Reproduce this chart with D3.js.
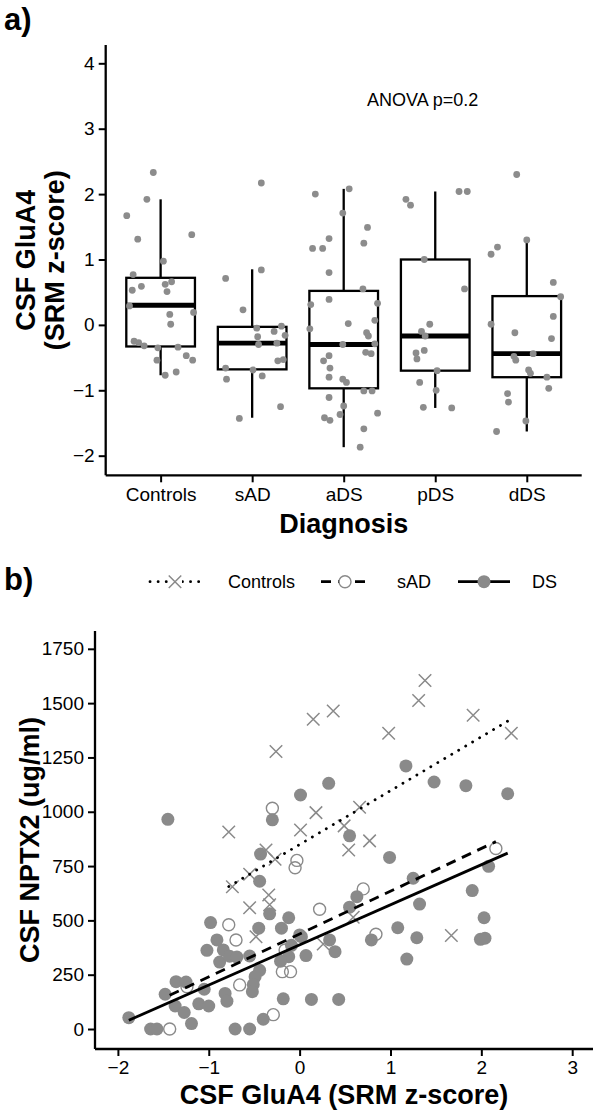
<!DOCTYPE html>
<html><head><meta charset="utf-8">
<script src="https://cdnjs.cloudflare.com/ajax/libs/d3/7.8.5/d3.min.js"></script>
<style>body{margin:0;background:#fff}svg{display:block}text{font-family:"Liberation Sans",Arial,sans-serif;fill:#000}</style>
</head><body><svg id="c" width="596" height="1113"></svg>
<script>
// ---------- Panel a data ----------
const diagnoses = ["Controls","sAD","aDS","pDS","dDS"];
const boxLow  = [-0.77,-1.42,-1.87,-1.27,-1.63];
const boxQ1   = [-0.33,-0.68,-0.97,-0.70,-0.80];
const boxMed  = [0.30,-0.28,-0.30,-0.17,-0.44];
const boxQ3   = [0.72,-0.03,0.52,1.00,0.44];
const boxHigh = [1.92,0.85,2.08,2.04,1.30];
const aYTicks = [-2,-1,0,1,2,3,4];
// jittered points: [jitter (category units), GluA4 z-score]
const ptsControls = [[-0.08,2.33],[-0.15,1.92],[-0.37,1.67],[-0.25,1.31],[0.34,1.38],[0.03,0.975],[-0.30,0.77],[-0.31,0.53],[-0.21,0.59],[0.05,0.62],[0.12,0.66],[0.07,0.51],[-0.34,0.29],[0.36,0.19],[0.10,0.16],[0.11,0.01],[-0.29,-0.25],[-0.24,-0.27],[-0.18,-0.32],[-0.03,-0.35],[0.19,-0.34],[0.28,-0.47],[0.35,-0.54],[-0.04,-0.54],[0.05,-0.77],[0.17,-0.72]];
const ptsSAD = [[0.10,2.17],[-0.29,0.71],[0.10,0.84],[-0.10,0.23],[0.05,-0.05],[0.06,-0.18],[0.24,-0.10],[0.32,-0.02],[0.36,-0.16],[0.07,-0.30],[0.27,-0.28],[0.34,-0.53],[0.28,-0.55],[-0.29,-0.66],[0.01,-0.69],[-0.28,-0.83],[0.11,-0.78],[-0.14,-1.43],[0.31,-1.25]];
const ptsADS = [[-0.31,2.0],[0.06,2.08],[-0.01,1.71],[0.26,1.49],[-0.34,1.17],[-0.23,1.17],[-0.16,1.32],[0.22,1.25],[-0.16,0.80],[0.21,0.55],[-0.16,0.39],[-0.36,0.31],[0.37,0.33],[0.34,0.07],[0.05,0.02],[-0.37,-0.06],[0.25,-0.12],[0.27,-0.17],[-0.01,-0.30],[0.34,-0.29],[0.24,-0.42],[0.30,-0.44],[-0.16,-0.47],[-0.22,-0.55],[-0.15,-0.66],[-0.16,-0.80],[-0.01,-0.83],[0.03,-0.88],[0.22,-1.01],[0.31,-1.01],[-0.16,-1.11],[0.00,-1.24],[-0.21,-1.42],[-0.15,-1.46],[-0.04,-1.37],[0.37,-1.35],[0.22,-1.59],[0.18,-1.87]];
const ptsPDS = [[-0.32,1.92],[-0.27,1.83],[0.26,2.04],[0.35,2.04],[-0.12,1.0],[0.32,0.55],[-0.06,0.01],[-0.15,-0.10],[-0.11,-0.17],[-0.12,-0.39],[-0.21,-0.43],[-0.20,-0.52],[0.02,-0.70],[-0.17,-0.88],[0.01,-1.0],[-0.13,-1.26],[0.18,-1.27]];
const ptsDDS = [[-0.11,2.3],[-0.39,1.08],[-0.32,1.19],[0.00,1.30],[0.29,0.65],[0.37,0.43],[0.29,0.13],[-0.39,0.01],[-0.13,-0.12],[0.27,-0.21],[0.07,-0.44],[-0.14,-0.48],[-0.12,-0.54],[0.02,-0.69],[0.04,-0.74],[0.22,-0.80],[0.24,-0.97],[-0.21,-1.05],[-0.20,-1.18],[-0.01,-1.47],[-0.33,-1.63]];
const ptsByDiagnosis = [ptsControls, ptsSAD, ptsADS, ptsPDS, ptsDDS];

// ---------- Panel b data ----------
const groups = ["Controls","sAD","DS"];
const controlsGluA4 = [-0.26,0.15,0.37,1.38,1.31,1.91,2.33,0.98,-0.78,0.18,0.01,0.66,0.49,0.77,0.54,-0.37,-0.27,-0.74,-0.55,-0.34,-0.33,-0.55,-0.48,0.59,1.67,0.26];
const controlsNPTX2 = [1277,1426,1464,1604,1512,1444,1361,1361,907,996,916,1021,935,866,824,824,781,655,712,617,572,558,425,514,430,391];
const sadGluA4 = [-0.30,-0.03,-0.05,2.16,0.22,-0.78,-0.70,-0.19,-0.10,-0.66,-1.24,-0.29,-1.43,-0.16,0.70,0.84];
const sadNPTX2 = [1016,776,742,831,551,480,410,264,264,203,195,66,0,364,645,436];
const dsGluA4 = [-1.45,0.01,0.32,-0.30,-0.43,1.17,1.48,1.83,2.29,0.55,0.99,2.08,-0.44,-0.33,-0.12,-0.98,-0.45,-0.20,-0.91,-0.84,-1.02,0.00,-0.09,-0.12,0.07,-0.88,-0.77,-0.69,-0.55,-0.21,-0.44,-0.49,-0.51,-0.52,-1.05,-1.36,-1.25,-1.48,-1.37,-1.27,-1.11,-1.00,-0.82,-0.80,-0.18,0.13,0.43,-1.88,-0.40,-1.64,-1.57,-0.71,-0.55,-1.19,0.33,0.39,0.55,0.63,1.25,1.90,1.32,2.03,1.08,1.29,0.79,1.99,2.04,1.18,0.02];
const dsNPTX2 = [965,1077,1131,963,805,1211,1137,1120,1083,889,790,749,680,530,512,490,464,464,410,364,362,433,385,333,338,308,335,331,336,312,270,241,205,172,183,218,216,160,106,76,116,106,164,128,139,136,136,52,45,0,0,0,0,25,410,356,561,609,694,637,575,512,466,420,410,413,418,322,425];
// linear fits (intercept, slope) for Controls, sAD, DS
const fitIntercept = [849, 437, 387];
const fitSlope = [248, 197, 184.5];
const bXTicks = [-2,-1,0,1,2,3];
const bYTicks = [0,250,500,750,1000,1250,1500,1750];

const svg = d3.select("#c");
const ptGrey = "#8c8c8c";
const FONT_TICK = 19, FONT_TITLE = 27;

// ================= Panel a =================
const aLeft = 105.7, aRight = 581.7, aTop = 45, aBottom = 475.3;
const xA = d3.scalePoint().domain(diagnoses).range([aLeft, aRight]).padding(0.6);
const yA = d3.scaleLinear().domain([-2.30, 4.28]).range([aBottom, aTop]);
const step = xA.step();

const gA = svg.append("g");
const axAY = d3.axisLeft(yA).tickValues(aYTicks).tickSize(7).tickPadding(4).tickFormat(d3.format("d"));
const axAX = d3.axisBottom(xA).tickSize(7).tickPadding(5);
const gAY = gA.append("g").attr("transform", `translate(${aLeft},0)`).call(axAY);
const gAX = gA.append("g").attr("transform", `translate(0,${aBottom})`).call(axAX);
function styleAxis(g) {
  g.select(".domain").attr("stroke", "#000").attr("stroke-width", 2.3);
  g.selectAll(".tick line").attr("stroke", "#000").attr("stroke-width", 2);
  g.selectAll(".tick text").attr("font-size", FONT_TICK).attr("fill", "#1a1a1a").attr("font-family", "Liberation Sans, Arial, sans-serif");
}
[gAY, gAX].forEach(styleAxis);
gAY.select(".domain").attr("d", `M0,${aTop}V${aBottom}`);
gAX.select(".domain").attr("d", `M${aLeft},0H${aRight}`);

const bw = step * 0.75;
diagnoses.forEach((d, i) => {
  const cx = xA(d);
  const g = gA.append("g");
  g.append("line").attr("x1", cx).attr("x2", cx).attr("y1", yA(boxQ3[i])).attr("y2", yA(boxHigh[i])).attr("stroke", "#000").attr("stroke-width", 2.3);
  g.append("line").attr("x1", cx).attr("x2", cx).attr("y1", yA(boxQ1[i])).attr("y2", yA(boxLow[i])).attr("stroke", "#000").attr("stroke-width", 2.3);
  g.append("rect").attr("x", cx - bw / 2).attr("width", bw).attr("y", yA(boxQ3[i])).attr("height", yA(boxQ1[i]) - yA(boxQ3[i]))
    .attr("fill", "none").attr("stroke", "#000").attr("stroke-width", 2.3);
  g.append("line").attr("x1", cx - bw / 2).attr("x2", cx + bw / 2).attr("y1", yA(boxMed[i])).attr("y2", yA(boxMed[i])).attr("stroke", "#000").attr("stroke-width", 4.8);
});
diagnoses.forEach((d, i) => {
  gA.append("g").selectAll("circle").data(ptsByDiagnosis[i]).join("circle")
    .attr("cx", p => xA(d) + p[0] * step).attr("cy", p => yA(p[1])).attr("r", 3.4).attr("fill", ptGrey);
});
gA.append("text").attr("x", 367).attr("y", 106).attr("font-size", 18).attr("fill", "#111").text("ANOVA p=0.2");
gA.append("text").attr("x", (aLeft + aRight) / 2).attr("y", 533).attr("text-anchor", "middle").attr("font-size", FONT_TITLE).attr("font-weight", "bold").text("Diagnosis");
const yLab = gA.append("text").attr("transform", `translate(0,${(aTop + aBottom) / 2}) rotate(-90)`).attr("text-anchor", "middle").attr("font-size", FONT_TITLE).attr("font-weight", "bold");
yLab.append("tspan").attr("x", 0).attr("y", 35).text("CSF GluA4");
yLab.append("tspan").attr("x", 0).attr("y", 64).text("(SRM z-score)");
svg.append("text").attr("x", 4).attr("y", 30).attr("font-size", 31).attr("font-weight", "bold").text("a)");

// ================= Panel b =================
const bLeft = 95, bRight = 593, bTop = 631, bBottom = 1049;
const xB = d3.scaleLinear().domain([-2.252, 3.229]).range([bLeft, bRight]);
const yB = d3.scaleLinear().domain([-92, 1832]).range([bBottom, bTop]);
const gB = svg.append("g");
const axBY = d3.axisLeft(yB).tickValues(bYTicks).tickSize(7).tickPadding(4).tickFormat(d3.format("d"));
const axBX = d3.axisBottom(xB).tickValues(bXTicks).tickSize(7).tickPadding(5).tickFormat(d3.format("d"));
const gBY = gB.append("g").attr("transform", `translate(${bLeft},0)`).call(axBY);
const gBX = gB.append("g").attr("transform", `translate(0,${bBottom})`).call(axBX);
[gBY, gBX].forEach(styleAxis);
gBY.select(".domain").attr("d", `M0,${bTop}V${bBottom}`);
gBX.select(".domain").attr("d", `M${bLeft},0H${bRight}`);

function toPts(xs, ys) { return xs.map((x, i) => [x, ys[i]]); }
const dataControls = toPts(controlsGluA4, controlsNPTX2);
const dataSAD = toPts(sadGluA4, sadNPTX2);
const dataDS = toPts(dsGluA4, dsNPTX2);

function xMark(sel, size) {
  const h = size / 2;
  sel.append("path").attr("d", `M${-h},${-h}L${h},${h}M${-h},${h}L${h},${-h}`).attr("stroke", "#8a8a8a").attr("stroke-width", 1.5).attr("fill", "none");
}
const gPts = gB.append("g");
gPts.selectAll(".ds").data(dataDS).join("circle").attr("class", "ds")
  .attr("cx", d => xB(d[0])).attr("cy", d => yB(d[1])).attr("r", 6.5).attr("fill", "#8a8a8a");
gPts.selectAll(".sad").data(dataSAD).join("circle").attr("class", "sad")
  .attr("cx", d => xB(d[0])).attr("cy", d => yB(d[1])).attr("r", 6).attr("fill", "none").attr("stroke", "#8a8a8a").attr("stroke-width", 1.4);
gPts.selectAll(".ctl").data(dataControls).join("g").attr("class", "ctl")
  .attr("transform", d => `translate(${xB(d[0])},${yB(d[1])})`).each(function () { xMark(d3.select(this), 12.5); });

const lineGen = d3.line().x(d => xB(d[0])).y(d => yB(d[1]));
const styles = { Controls: { dash: "0.1 8", cap: "round", w: 2.8 }, sAD: { dash: "10 7", cap: "butt", w: 2.8 }, DS: { dash: null, cap: "butt", w: 2.8 } };
[[dataControls, "Controls"], [dataSAD, "sAD"], [dataDS, "DS"]].forEach(([pts, g], i) => {
  const s = styles[g];
  const ext = d3.extent(pts, d => d[0]);
  const seg = ext.map(x => [x, fitIntercept[i] + fitSlope[i] * x]);
  gB.append("path").attr("d", lineGen(seg)).attr("fill", "none").attr("stroke", "#000")
    .attr("stroke-width", s.w).attr("stroke-linecap", s.cap).attr("stroke-dasharray", s.dash);
});

// legend
const legY = 581.7;
const legKeys = [{ g: "Controls", x0: 150, x1: 200, tx: 228 }, { g: "sAD", x0: 321, x1: 369, tx: 397 }, { g: "DS", x0: 458, x1: 510, tx: 532 }];
legKeys.forEach(k => {
  const s = styles[k.g];
  svg.append("line").attr("x1", k.x0).attr("x2", k.x1).attr("y1", legY).attr("y2", legY).attr("stroke", "#000")
    .attr("stroke-width", s.w).attr("stroke-linecap", s.cap).attr("stroke-dasharray", s.dash);
  const cx = (k.x0 + k.x1) / 2;
  if (k.g === "Controls") { const m = svg.append("g").attr("transform", `translate(${cx},${legY})`); m.append("rect").attr("x", -7).attr("y", -7).attr("width", 14).attr("height", 14).attr("fill", "#fff"); xMark(m, 12.5); }
  else if (k.g === "sAD") svg.append("circle").attr("cx", cx).attr("cy", legY).attr("r", 6).attr("fill", "#fff").attr("stroke", "#8a8a8a").attr("stroke-width", 1.4);
  else svg.append("circle").attr("cx", cx).attr("cy", legY).attr("r", 6.5).attr("fill", "#8a8a8a");
  svg.append("text").attr("x", k.tx).attr("y", legY + 6.5).attr("font-size", 18).attr("fill", "#111").text(k.g);
});

gB.append("text").attr("x", (bLeft + bRight) / 2).attr("y", 1104).attr("text-anchor", "middle").attr("font-size", FONT_TITLE).attr("font-weight", "bold").text("CSF GluA4 (SRM z-score)");
gB.append("text").attr("transform", `translate(39,${(bTop + bBottom) / 2}) rotate(-90)`).attr("text-anchor", "middle").attr("font-size", FONT_TITLE).attr("font-weight", "bold").text("CSF NPTX2 (ug/ml)");
svg.append("text").attr("x", 4).attr("y", 590).attr("font-size", 31).attr("font-weight", "bold").text("b)");
</script></body></html>
